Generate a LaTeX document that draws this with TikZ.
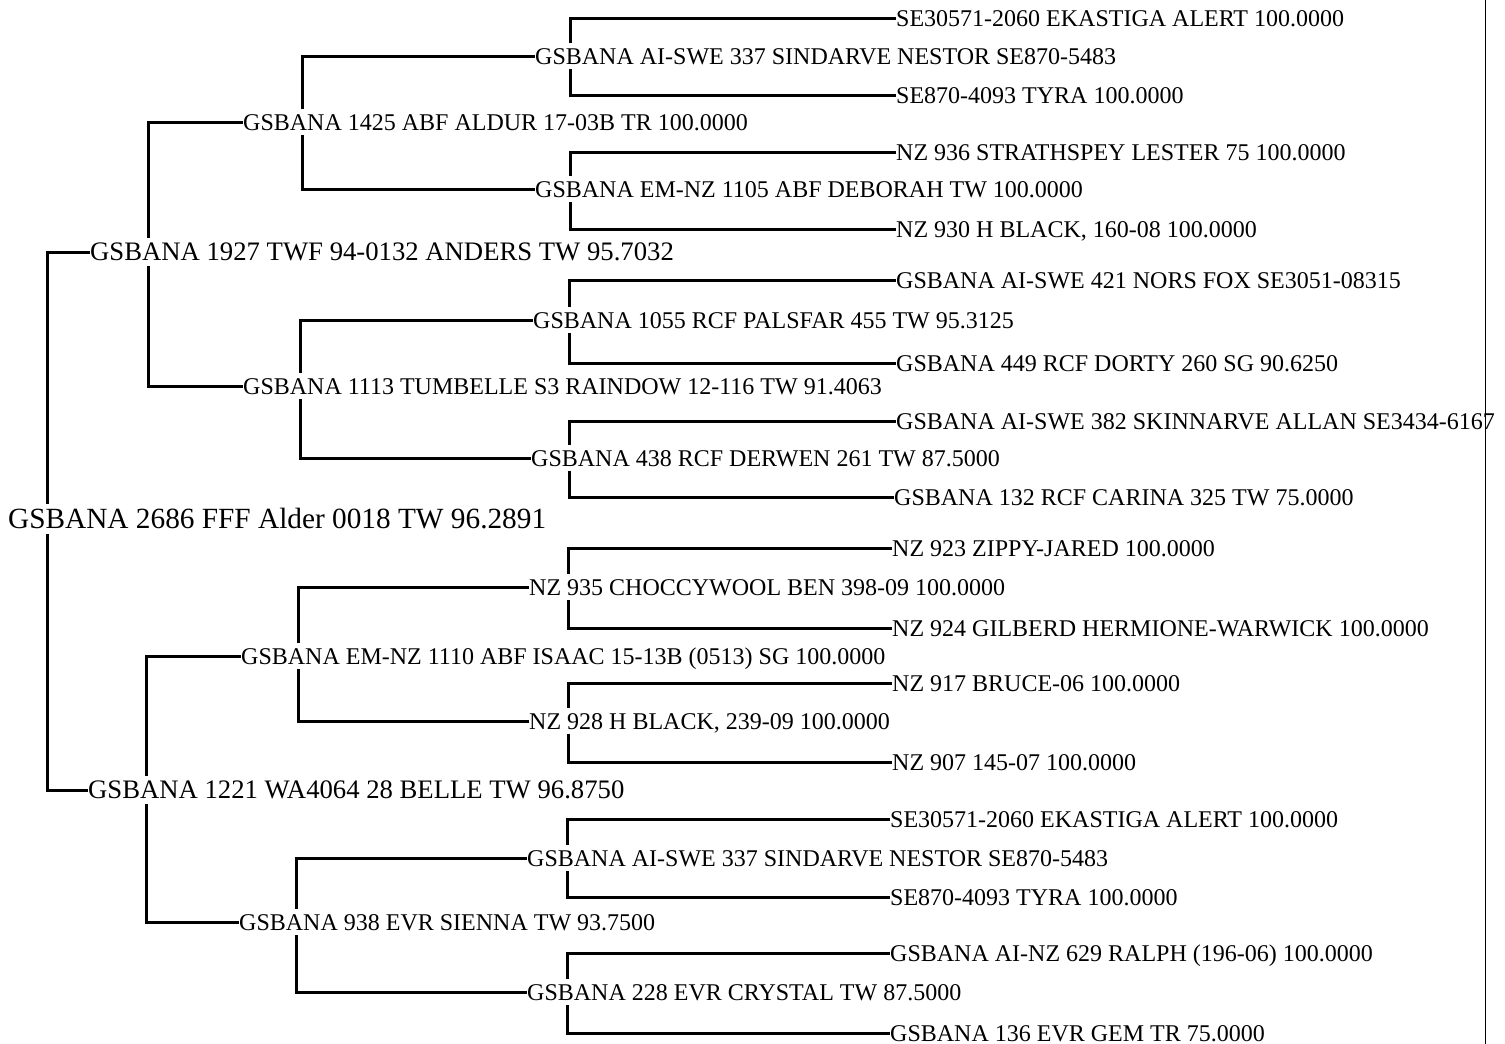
\documentclass[tikz,border=0pt]{standalone}
\usepackage{fontspec}
\setmainfont{Liberation Serif}
\usetikzlibrary{positioning}

\begin{document}
\begin{tikzpicture}[
    x=1pt,y=-1pt,
    dog/.style={anchor=west,inner xsep=0pt,inner ysep=5pt,text height=16pt,text depth=0pt,font=\fontsize{24}{24}\selectfont},
    gen/.style={dog,text height=17.6pt,font=\fontsize{26.7}{27}\selectfont},
    top/.style={dog,text height=19.4pt,font=\fontsize{29.3}{30}\selectfont},
    link/.style={line width=3pt}
  ]
    \useasboundingbox (0,0) rectangle (1505,1044);
    \node[top] (r) at (8,519) {GSBANA 2686 FFF Alder 0018 TW 96.2891};
    \node[gen] (s) at (90,252) {GSBANA 1927 TWF 94-0132 ANDERS TW 95.7032};
    \node[gen] (d) at (88,790) {GSBANA 1221 WA4064 28 BELLE TW 96.8750};
    \node[dog] (ss) at (243,122) {GSBANA 1425 ABF ALDUR 17-03B TR 100.0000};
    \node[dog] (sd) at (243,386) {GSBANA 1113 TUMBELLE S3 RAINDOW 12-116 TW 91.4063};
    \node[dog] (ds) at (241,656) {GSBANA EM-NZ 1110 ABF ISAAC 15-13B (0513) SG 100.0000};
    \node[dog] (dd) at (239,922) {GSBANA 938 EVR SIENNA TW 93.7500};
    \node[dog] (sss) at (535,56) {GSBANA AI-SWE 337 SINDARVE NESTOR SE870-5483};
    \node[dog] (ssd) at (535,189) {GSBANA EM-NZ 1105 ABF DEBORAH TW 100.0000};
    \node[dog] (sds) at (533,320) {GSBANA 1055 RCF PALSFAR 455 TW 95.3125};
    \node[dog] (sdd) at (531,458) {GSBANA 438 RCF DERWEN 261 TW 87.5000};
    \node[dog] (dss) at (529,587) {NZ 935 CHOCCYWOOL BEN 398-09 100.0000};
    \node[dog] (dsd) at (529,721) {NZ 928 H BLACK, 239-09 100.0000};
    \node[dog] (dds) at (527,858) {GSBANA AI-SWE 337 SINDARVE NESTOR SE870-5483};
    \node[dog] (ddd) at (527,992) {GSBANA 228 EVR CRYSTAL TW 87.5000};
    \node[dog] (ssss) at (896,18) {SE30571-2060 EKASTIGA ALERT 100.0000};
    \node[dog] (sssd) at (896,95) {SE870-4093 TYRA 100.0000};
    \node[dog] (ssds) at (896,152) {NZ 936 STRATHSPEY LESTER 75 100.0000};
    \node[dog] (ssdd) at (896,229) {NZ 930 H BLACK, 160-08 100.0000};
    \node[dog] (sdss) at (896,280) {GSBANA AI-SWE 421 NORS FOX SE3051-08315};
    \node[dog] (sdsd) at (896,363) {GSBANA 449 RCF DORTY 260 SG 90.6250};
    \node[dog] (sdds) at (896,421) {GSBANA AI-SWE 382 SKINNARVE ALLAN SE3434-6167};
    \node[dog] (sddd) at (894,497) {GSBANA 132 RCF CARINA 325 TW 75.0000};
    \node[dog] (dsss) at (892,548) {NZ 923 ZIPPY-JARED 100.0000};
    \node[dog] (dssd) at (892,628) {NZ 924 GILBERD HERMIONE-WARWICK 100.0000};
    \node[dog] (dsds) at (892,683) {NZ 917 BRUCE-06 100.0000};
    \node[dog] (dsdd) at (892,762) {NZ 907 145-07 100.0000};
    \node[dog] (ddss) at (890,819) {SE30571-2060 EKASTIGA ALERT 100.0000};
    \node[dog] (ddsd) at (890,897) {SE870-4093 TYRA 100.0000};
    \node[dog] (ddds) at (890,953) {GSBANA AI-NZ 629 RALPH (196-06) 100.0000};
    \node[dog] (dddd) at (890,1033) {GSBANA 136 EVR GEM TR 75.0000};

    \draw[link] ([xshift=39pt]r.north west) |- (s.west);
    \draw[link] ([xshift=39pt]r.south west) |- (d.west);
    \draw[link] ([xshift=58pt]s.north west) |- (ss.west);
    \draw[link] ([xshift=58pt]s.south west) |- (sd.west);
    \draw[link] ([xshift=58pt]d.north west) |- (ds.west);
    \draw[link] ([xshift=58pt]d.south west) |- (dd.west);
    \draw[link] ([xshift=59pt]ss.north west) |- (sss.west);
    \draw[link] ([xshift=59pt]ss.south west) |- (ssd.west);
    \draw[link] ([xshift=57pt]sd.north west) |- (sds.west);
    \draw[link] ([xshift=57pt]sd.south west) |- (sdd.west);
    \draw[link] ([xshift=57pt]ds.north west) |- (dss.west);
    \draw[link] ([xshift=57pt]ds.south west) |- (dsd.west);
    \draw[link] ([xshift=57pt]dd.north west) |- (dds.west);
    \draw[link] ([xshift=57pt]dd.south west) |- (ddd.west);
    \draw[link] ([xshift=35pt]sss.north west) |- (ssss.west);
    \draw[link] ([xshift=35pt]sss.south west) |- (sssd.west);
    \draw[link] ([xshift=35pt]ssd.north west) |- (ssds.west);
    \draw[link] ([xshift=35pt]ssd.south west) |- (ssdd.west);
    \draw[link] ([xshift=36pt]sds.north west) |- (sdss.west);
    \draw[link] ([xshift=36pt]sds.south west) |- (sdsd.west);
    \draw[link] ([xshift=38pt]sdd.north west) |- (sdds.west);
    \draw[link] ([xshift=38pt]sdd.south west) |- (sddd.west);
    \draw[link] ([xshift=39pt]dss.north west) |- (dsss.west);
    \draw[link] ([xshift=39pt]dss.south west) |- (dssd.west);
    \draw[link] ([xshift=39pt]dsd.north west) |- (dsds.west);
    \draw[link] ([xshift=39pt]dsd.south west) |- (dsdd.west);
    \draw[link] ([xshift=40pt]dds.north west) |- (ddss.west);
    \draw[link] ([xshift=40pt]dds.south west) |- (ddsd.west);
    \draw[link] ([xshift=40pt]ddd.north west) |- (ddds.west);
    \draw[link] ([xshift=40pt]ddd.south west) |- (dddd.west);

    \draw[line width=1pt] (1485,0) -- (1485,1044);
  \end{tikzpicture}
\end{document}
